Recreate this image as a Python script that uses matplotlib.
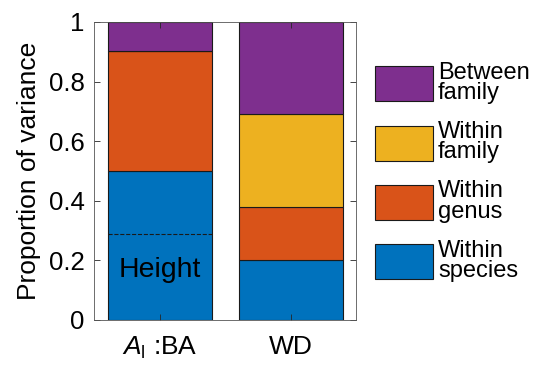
import numpy as np
import matplotlib
matplotlib.use('Agg')
import matplotlib.pyplot as plt

plt.rcParams['font.family'] = ['Liberation Sans', 'DejaVu Sans']
plt.rcParams['mathtext.fontset'] = 'custom'
plt.rcParams['mathtext.rm'] = 'Liberation Sans'
plt.rcParams['mathtext.it'] = 'Liberation Sans:italic'

# data
categories = [r'$A_{\mathrm{l}}$ :BA', 'WD']
within_species = [0.5, 0.2]
within_genus = [0.404, 0.18]
within_family = [0.0, 0.31]
between_family = [0.096, 0.31]
height_share = 0.288  # dashed line inside first bar

labels = ['Within\nspecies', 'Within\ngenus', 'Within\nfamily', 'Between\nfamily']
colors = ['#0072BD', '#D95319', '#EDB120', '#7E2F8E']
series = [within_species, within_genus, within_family, between_family]

fig = plt.figure(figsize=(5.39, 3.66), dpi=100)
ax = fig.add_axes([0.1753, 0.1257, 0.4861, 0.8143])

x = np.arange(1, len(categories) + 1)
bottom = np.zeros(len(categories))
handles = []
for vals, col, lab in zip(series, colors, labels):
    vals = np.array(vals)
    h = ax.bar(x, vals, 0.8, bottom=bottom, color=col, edgecolor='#1a1a1a',
               linewidth=0.8, label=lab)
    handles.append(h)
    bottom += vals

ax.plot([x[0] - 0.4, x[0] + 0.4], [height_share, height_share], '--',
        color='#1a1a1a', linewidth=0.8)
ax.text(x[0], 0.168, 'Height', ha='center', va='center', fontsize=20.5, color='black')

ax.set_xlim(0.5, 2.5)
ax.set_ylim(0, 1)
ax.set_xticks(x)
ax.set_xticklabels(categories, fontsize=19)
ax.set_yticks([0, 0.2, 0.4, 0.6, 0.8, 1])
ax.set_yticklabels(['0', '0.2', '0.4', '0.6', '0.8', '1'], fontsize=18.5)
ax.tick_params(direction='in', length=4, width=0.6, top=True, right=True,
               color='#262626', pad=7)
ax.tick_params(axis='x', pad=11)
for s in ax.spines.values():
    s.set_linewidth(0.6)
    s.set_color('#555555')
ax.set_ylabel('Proportion of variance', fontsize=19, labelpad=6)

leg = ax.legend(handles[::-1], labels[::-1], loc='upper left',
                bbox_to_anchor=(1.0, 0.93), frameon=False, fontsize=17,
                handlelength=2.45, handleheight=1.9, handletextpad=0.2,
                labelspacing=0.72, borderaxespad=0.4)
for t in leg.get_texts():
    t.set_linespacing(0.9)

fig.savefig('out.png', dpi=100)
